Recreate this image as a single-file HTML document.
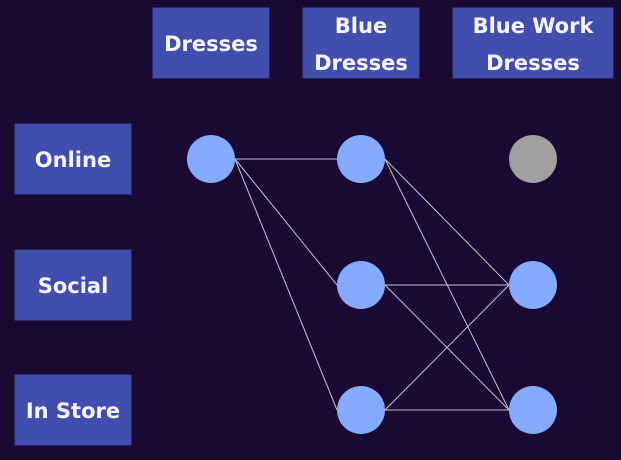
<!DOCTYPE html>
<html><head><style>
html,body{margin:0;padding:0;background:#1c0933;}
svg{display:block}
text{font-family:"DejaVu Sans","Liberation Sans",sans-serif;font-weight:bold;font-size:21px;fill:#f4f4f8;text-anchor:middle}
rect{fill:#414eae;stroke:#3a469c;stroke-width:1}
line{stroke:#c8c0d0;stroke-width:1}
</style></head><body>
<svg width="621" height="460" viewBox="0 0 621 460">
<rect x="153" y="8" width="116" height="70"/>
<rect x="303" y="8" width="116" height="70"/>
<rect x="453" y="8" width="160" height="70"/>
<rect x="15" y="124" width="116" height="70"/>
<rect x="15" y="250" width="116" height="70"/>
<rect x="15" y="375" width="116" height="70"/>
<text x="211" y="51">Dresses</text>
<text x="361" y="33">Blue</text>
<text x="361" y="70">Dresses</text>
<text x="533" y="33">Blue Work</text>
<text x="533" y="70">Dresses</text>
<text x="73" y="167">Online</text>
<text x="73" y="293">Social</text>
<text x="73" y="418">In Store</text>
<line x1="235" y1="159" x2="337" y2="159"/>
<line x1="235" y1="159" x2="337" y2="285"/>
<line x1="235" y1="159" x2="337" y2="410"/>
<line x1="385" y1="159" x2="509" y2="285"/>
<line x1="385" y1="159" x2="509" y2="410"/>
<line x1="385" y1="285" x2="509" y2="285"/>
<line x1="385" y1="285" x2="509" y2="410"/>
<line x1="385" y1="410" x2="509" y2="285"/>
<line x1="385" y1="410" x2="509" y2="410"/>
<g fill="#84abff">
<circle cx="211" cy="159" r="24"/>
<circle cx="361" cy="159" r="24"/>
<circle cx="361" cy="285" r="24"/>
<circle cx="361" cy="410" r="24"/>
<circle cx="533" cy="285" r="24"/>
<circle cx="533" cy="410" r="24"/>
</g>
<circle cx="533" cy="159" r="24" fill="#a0a0a0"/>
</svg>
</body></html>
